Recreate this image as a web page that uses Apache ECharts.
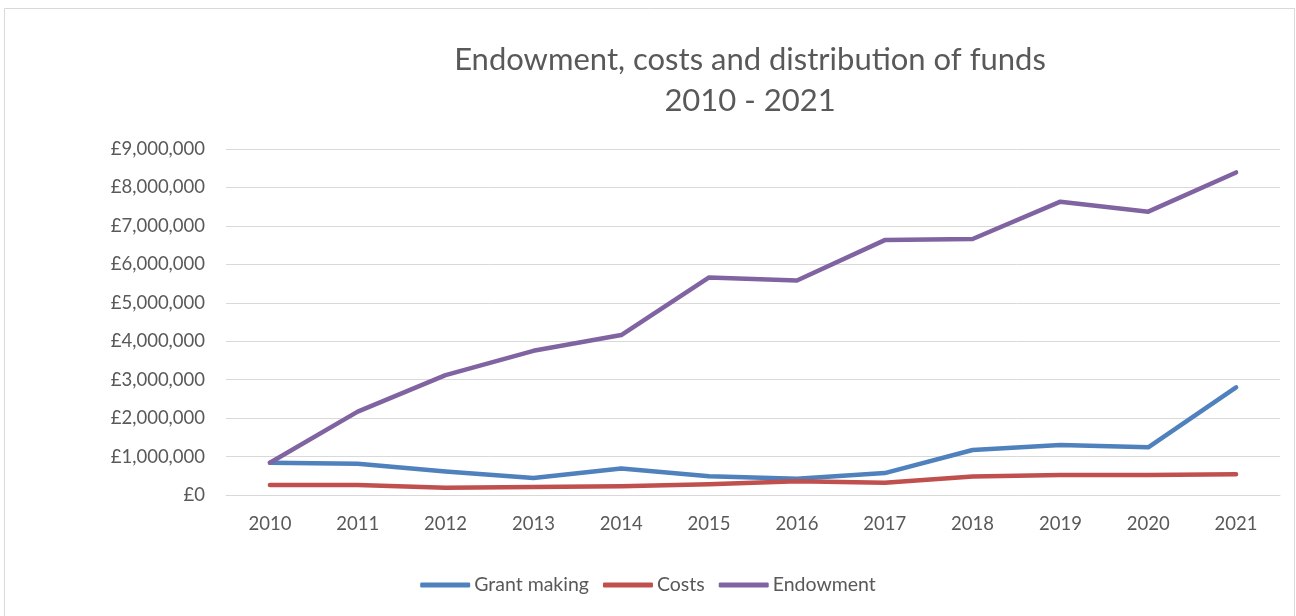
<!DOCTYPE html>
<html>
<head>
<meta charset="utf-8">
<script src="https://cdn.jsdelivr.net/npm/echarts@6/dist/echarts.min.js"></script>
<style>
  html, body { margin: 0; padding: 0; background: #ffffff; }
  #chart { width: 1296px; height: 616px; }
</style>
</head>
<body>
<div id="chart"></div>
<script>
// Years on the category axis
const years = ['2010', '2011', '2012', '2013', '2014', '2015', '2016', '2017', '2018', '2019', '2020', '2021'];

// Annual figures in pounds
const grantMaking = [840000, 810000, 610000, 440000, 690000, 490000, 420000, 570000, 1170000, 1300000, 1240000, 2800000];
const costs       = [260000, 260000, 190000, 210000, 230000, 280000, 360000, 320000, 480000, 520000, 520000, 540000];
const endowment   = [840000, 2170000, 3120000, 3750000, 4160000, 5660000, 5580000, 6630000, 6660000, 7630000, 7370000, 8390000];

const seriesNames = ['Grant making', 'Costs', 'Endowment'];
const seriesColors = ['#4F81BD', '#C0504D', '#8064A2'];
const seriesData = [grantMaking, costs, endowment];

const FONT = 'Lato, "Noto Sans", sans-serif';
const TEXT_COLOR = '#595959';

const chart = echarts.init(document.getElementById('chart'));

function pounds(v) {
  return '£' + v.toLocaleString('en-GB');
}

chart.setOption({
  animation: false,
  backgroundColor: '#ffffff',
  graphic: [{
    type: 'rect',
    shape: { x: 4.5, y: 8.5, width: 1290, height: 620 },
    style: { fill: 'none', stroke: '#d9d9d9', lineWidth: 1 },
    silent: true
  }],
  title: {
    text: 'Endowment, costs and distribution of funds\n2010 - 2021',
    left: 745,
    top: 34,
    textAlign: 'center',
    textStyle: {
      fontFamily: FONT,
      fontSize: 31,
      fontWeight: 'normal',
      color: TEXT_COLOR,
      lineHeight: 41
    }
  },
  legend: {
    data: seriesNames,
    top: 570,
    left: 'center',
    itemWidth: 50,
    itemHeight: 5,
    itemGap: 14,
    icon: 'roundRect',
    textStyle: { fontFamily: FONT, fontSize: 19.5, color: TEXT_COLOR, padding: [0, 0, 0, -1] }
  },
  grid: { left: 226, right: 16, top: 149, bottom: 121, containLabel: false },
  xAxis: {
    type: 'category',
    data: years,
    boundaryGap: true,
    axisLine: { show: true, lineStyle: { color: '#d9d9d9', width: 1 } },
    axisTick: { show: false },
    axisLabel: { fontFamily: FONT, fontSize: 18.5, color: TEXT_COLOR, margin: 20 }
  },
  yAxis: {
    type: 'value',
    min: 0,
    max: 9000000,
    interval: 1000000,
    axisLine: { show: false },
    axisTick: { show: false },
    splitLine: { lineStyle: { color: '#d9d9d9', width: 1 } },
    axisLabel: {
      fontFamily: FONT, fontSize: 18.5, color: TEXT_COLOR, margin: 21,
      formatter: pounds
    }
  },
  series: seriesNames.map((name, i) => ({
    name: name,
    type: 'line',
    data: seriesData[i],
    symbol: 'none',
    color: seriesColors[i],
    lineStyle: { width: 4.5, color: seriesColors[i], cap: 'round', join: 'round' },
    z: 3 + (i === 2 ? 1 : 0)
  }))
});
</script>
</body>
</html>
